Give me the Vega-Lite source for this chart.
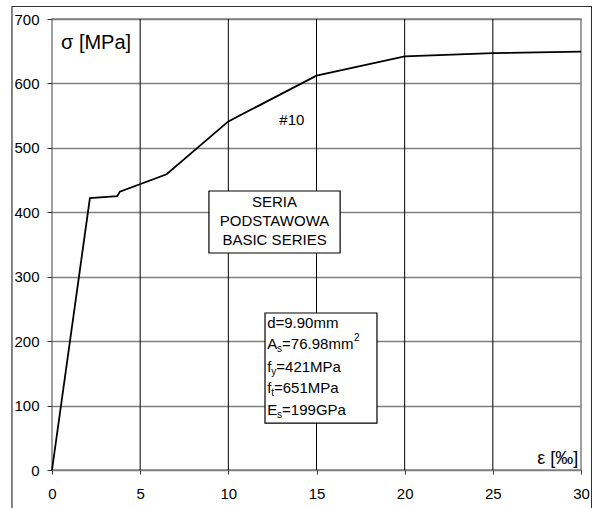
{
  "$schema": "https://vega.github.io/schema/vega-lite/v6.json",
  "width": 529,
  "height": 451,
  "autosize": {"type": "none"},
  "padding": {"left": 52, "top": 19, "right": 11, "bottom": 38},
  "background": "white",
  "config": {
    "view": {"stroke": "#808080", "strokeWidth": 1.5},
    "font": "Liberation Sans",
    "text": {"font": "Liberation Sans", "color": "black"}
  },
  "datasets": {
    "curve": [
      {"e": 0, "s": 0}, {"e": 2.15, "s": 422}, {"e": 3.7, "s": 425}, {"e": 3.85, "s": 432},
      {"e": 6.5, "s": 459}, {"e": 10, "s": 541}, {"e": 15, "s": 612}, {"e": 20, "s": 642},
      {"e": 25, "s": 647}, {"e": 30, "s": 649.5}
    ],
    "vgrid": [{"e": 5}, {"e": 10}, {"e": 15}, {"e": 20}, {"e": 25}],
    "frame": [{"e": -2.27, "e2": 30.6, "s": 719.4, "s2": -65}],
    "boxes": [
      {"e": 8.9, "e2": 16.34, "s": 433, "s2": 336.8},
      {"e": 12.08, "e2": 18.43, "s": 243.7, "s2": 72.9}
    ],
    "center": [
      {"e": 12.62, "s": 416, "t": "SERIA"},
      {"e": 12.62, "s": 386.5, "t": "PODSTAWOWA"},
      {"e": 12.62, "s": 357, "t": "BASIC SERIES"},
      {"e": 13.6, "s": 543, "t": "#10"}
    ],
    "params": [
      {"e": 12.2, "s": 228.9, "t": "d=9.90mm"},
      {"e": 12.2, "s": 194.8, "t": "A"},
      {"e": 13.05, "s": 194.8, "t": "=76.98mm"},
      {"e": 12.2, "s": 160.6, "t": "f"},
      {"e": 12.72, "s": 160.6, "t": "=421MPa"},
      {"e": 12.2, "s": 126.5, "t": "f"},
      {"e": 12.59, "s": 126.5, "t": "=651MPa"},
      {"e": 12.2, "s": 92.4, "t": "E"},
      {"e": 13.05, "s": 92.4, "t": "=199GPa"}
    ],
    "subs": [
      {"e": 12.76, "s": 194.8, "t": "s"},
      {"e": 12.43, "s": 160.6, "t": "y"},
      {"e": 12.43, "s": 126.5, "t": "t"},
      {"e": 12.76, "s": 92.4, "t": "s"}
    ],
    "sups": [{"e": 17.13, "s": 194.8, "t": "2"}],
    "ylab": [{"e": 0.51, "s": 662.7, "t": "σ [MPa]"}],
    "xlab": [{"e": 29.84, "s": 17, "t": "ε  [‰]"}]
  },
  "layer": [
    {
      "data": {"name": "vgrid"},
      "mark": {"type": "rule", "color": "black", "strokeWidth": 1},
      "encoding": {
        "x": {
          "field": "e", "type": "quantitative", "title": null,
          "scale": {"domain": [0, 30], "nice": false, "zero": false},
          "axis": {
            "values": [0, 5, 10, 15, 20, 25, 30], "grid": false, "domain": false,
            "tickSize": 4, "tickColor": "#333", "labelFontSize": 15, "labelColor": "black",
            "labelPadding": 12, "labelFont": "Liberation Sans", "labelFlush": false, "title": null
          }
        }
      }
    },
    {
      "data": {"name": "curve"},
      "mark": {"type": "line", "color": "black", "strokeWidth": 1.8},
      "encoding": {
        "x": {"field": "e", "type": "quantitative", "title": null},
        "y": {
          "field": "s", "type": "quantitative", "title": null,
          "scale": {"domain": [0, 700], "nice": false, "zero": false},
          "axis": {
            "values": [0, 100, 200, 300, 400, 500, 600, 700], "grid": true,
            "gridColor": "#808080", "gridWidth": 1.5, "gridOpacity": 1, "domain": false,
            "tickSize": 5, "tickColor": "#333", "labelFontSize": 15, "labelColor": "black",
            "labelPadding": 8, "labelFont": "Liberation Sans", "labelFlush": false, "title": null
          }
        }
      }
    },
    {
      "data": {"name": "frame"},
      "mark": {"type": "rect", "fill": "transparent", "stroke": "#333", "strokeWidth": 1.2, "clip": false},
      "encoding": {
        "x": {"field": "e", "type": "quantitative", "title": null},
        "x2": {"field": "e2"},
        "y": {"field": "s", "type": "quantitative", "title": null},
        "y2": {"field": "s2"}
      }
    },
    {
      "data": {"name": "boxes"},
      "mark": {"type": "rect", "fill": "white", "stroke": "black", "strokeWidth": 1.2},
      "encoding": {
        "x": {"field": "e", "type": "quantitative", "title": null},
        "x2": {"field": "e2"},
        "y": {"field": "s", "type": "quantitative", "title": null},
        "y2": {"field": "s2"}
      }
    },
    {
      "data": {"name": "center"},
      "mark": {"type": "text", "align": "center", "baseline": "middle", "fontSize": 15},
      "encoding": {
        "x": {"field": "e", "type": "quantitative", "title": null},
        "y": {"field": "s", "type": "quantitative", "title": null},
        "text": {"field": "t"}
      }
    },
    {
      "data": {"name": "params"},
      "mark": {"type": "text", "align": "left", "baseline": "middle", "fontSize": 15},
      "encoding": {
        "x": {"field": "e", "type": "quantitative", "title": null},
        "y": {"field": "s", "type": "quantitative", "title": null},
        "text": {"field": "t"}
      }
    },
    {
      "data": {"name": "subs"},
      "mark": {"type": "text", "align": "left", "baseline": "middle", "fontSize": 10, "dy": 5},
      "encoding": {
        "x": {"field": "e", "type": "quantitative", "title": null},
        "y": {"field": "s", "type": "quantitative", "title": null},
        "text": {"field": "t"}
      }
    },
    {
      "data": {"name": "sups"},
      "mark": {"type": "text", "align": "left", "baseline": "middle", "fontSize": 10, "dy": -6},
      "encoding": {
        "x": {"field": "e", "type": "quantitative", "title": null},
        "y": {"field": "s", "type": "quantitative", "title": null},
        "text": {"field": "t"}
      }
    },
    {
      "data": {"name": "ylab"},
      "mark": {"type": "text", "align": "left", "baseline": "middle", "fontSize": 20},
      "encoding": {
        "x": {"field": "e", "type": "quantitative", "title": null},
        "y": {"field": "s", "type": "quantitative", "title": null},
        "text": {"field": "t"}
      }
    },
    {
      "data": {"name": "xlab"},
      "mark": {"type": "text", "align": "right", "baseline": "middle", "fontSize": 18},
      "encoding": {
        "x": {"field": "e", "type": "quantitative", "title": null},
        "y": {"field": "s", "type": "quantitative", "title": null},
        "text": {"field": "t"}
      }
    }
  ]
}
